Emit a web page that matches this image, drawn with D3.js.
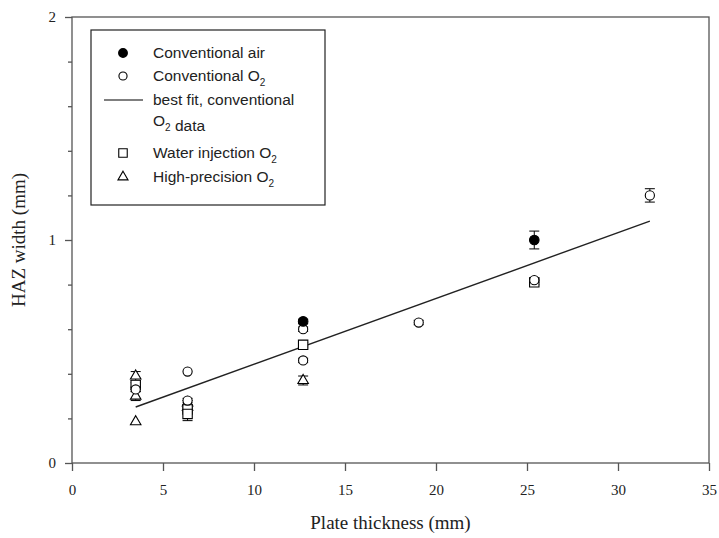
<!DOCTYPE html>
<html>
<head>
<meta charset="utf-8">
<script src="https://cdn.jsdelivr.net/npm/d3@7"></script>
<style>
  body { margin: 0; background: #fff; }
  text { fill: #222; }
</style>
</head>
<body>
<div id="chart"></div>
<script>
// data (plate thickness mm, HAZ width mm, error)
const airX = [12.7, 25.4];
const airY = [0.635, 1.0];
const airErr = [0.01, 0.04];

const o2X = [3.5, 6.35, 6.35, 12.7, 12.7, 19.05, 25.4, 31.75];
const o2Y = [0.33, 0.41, 0.28, 0.60, 0.46, 0.63, 0.82, 1.20];
const o2Err = [0.01, 0, 0.01, 0.01, 0.01, 0.01, 0.01, 0.03];

const waterX = [3.5, 6.35, 6.35, 12.7, 25.4];
const waterY = [0.35, 0.24, 0.22, 0.53, 0.81];
const waterErr = [0.01, 0.01, 0.03, 0.01, 0.01];

const hpX = [3.5, 3.5, 3.5, 6.35, 6.35, 12.7];
const hpY = [0.39, 0.30, 0.185, 0.27, 0.25, 0.37];
const hpErr = [0.02, 0.02, 0, 0.01, 0.01, 0.02];

// best fit line for conventional O2 data
const fitX = [3.5, 31.75];
const fitSlope = 0.0295;
const fitIntercept = 0.148;

const xTicks = [0, 5, 10, 15, 20, 25, 30, 35];
const yTicks = [0, 1, 2];
const yMinor = [0.2, 0.4, 0.6, 0.8, 1.2, 1.4, 1.6, 1.8];

const legendLabels = ['Conventional air', 'Conventional O2', 'best fit, conventional', 'O2 data', 'Water injection O2', 'High-precision O2'];

function createChart() {
    const width = 719;
    const height = 538;
    const left = 72, right = 709, top = 17, bottom = 463;

    const xScale = d3.scaleLinear().domain([0, 35]).range([left, right]);
    const yScale = d3.scaleLinear().domain([0, 2]).range([bottom, top]);

    const svg = d3.select('#chart').append('svg')
        .attr('width', width)
        .attr('height', height);

    // frame
    svg.append('rect')
        .attr('x', left).attr('y', top)
        .attr('width', right - left).attr('height', bottom - top)
        .attr('fill', 'none').attr('stroke', '#555').attr('stroke-width', 1.3);

    // x axis
    const xAxis = svg.append('g')
        .attr('transform', `translate(0, ${bottom})`)
        .call(d3.axisBottom(xScale).tickValues(xTicks).tickSize(8).tickPadding(13));
    xAxis.select('.domain').remove();

    // y axis
    const yAxis = svg.append('g')
        .attr('transform', `translate(${left}, 0)`)
        .call(d3.axisLeft(yScale).tickValues(yTicks).tickFormat(d3.format('d')).tickSize(7).tickPadding(9));
    yAxis.select('.domain').remove();

    svg.append('g')
        .attr('transform', `translate(${left}, 0)`)
        .call(d3.axisLeft(yScale).tickValues(yMinor).tickSize(4).tickFormat(''))
        .select('.domain').remove();

    svg.selectAll('.tick line').attr('stroke', '#555').attr('stroke-width', 1.3);
    svg.selectAll('.tick text')
        .attr('font-family', '"Liberation Serif", "Times New Roman", serif')
        .attr('font-size', 15)
        .attr('fill', '#222');

    // axis titles
    svg.append('text')
        .attr('x', (left + right) / 2)
        .attr('y', 529)
        .attr('text-anchor', 'middle')
        .attr('font-family', '"Liberation Serif", "Times New Roman", serif')
        .attr('font-size', 19)
        .text('Plate thickness (mm)');

    svg.append('text')
        .attr('transform', `translate(25, ${(top + bottom) / 2}) rotate(-90)`)
        .attr('text-anchor', 'middle')
        .attr('font-family', '"Liberation Serif", "Times New Roman", serif')
        .attr('font-size', 19)
        .text('HAZ width (mm)');

    // best fit
    svg.append('line')
        .attr('x1', xScale(fitX[0]))
        .attr('y1', yScale(fitIntercept + fitSlope * fitX[0]))
        .attr('x2', xScale(fitX[1]))
        .attr('y2', yScale(fitIntercept + fitSlope * fitX[1]))
        .attr('stroke', '#222').attr('stroke-width', 1.4);

    const series = [
        {x: hpX, y: hpY, e: hpErr, sym: d3.symbolTriangle, size: 48, fill: '#fff'},
        {x: waterX, y: waterY, e: waterErr, sym: d3.symbolSquare, size: 88, fill: '#fff'},
        {x: o2X, y: o2Y, e: o2Err, sym: d3.symbolCircle, size: 66, fill: '#fff'},
        {x: airX, y: airY, e: airErr, sym: d3.symbolCircle, size: 72, fill: '#000'}
    ];

    series.forEach(s => {
        const pts = s.x.map((d, i) => ({x: d, y: s.y[i], e: s.e[i]}));
        const g = svg.append('g');
        // error bars
        const eb = g.selectAll('.err').data(pts.filter(p => p.e > 0)).enter().append('g');
        eb.append('line')
            .attr('x1', p => xScale(p.x)).attr('x2', p => xScale(p.x))
            .attr('y1', p => yScale(p.y - p.e)).attr('y2', p => yScale(p.y + p.e))
            .attr('stroke', '#000').attr('stroke-width', 1);
        [-1, 1].forEach(sign => {
            eb.append('line')
                .attr('x1', p => xScale(p.x) - 5).attr('x2', p => xScale(p.x) + 5)
                .attr('y1', p => yScale(p.y + sign * p.e)).attr('y2', p => yScale(p.y + sign * p.e))
                .attr('stroke', '#000').attr('stroke-width', 1);
        });
        g.selectAll('path.pt').data(pts).enter().append('path')
            .attr('d', d3.symbol().type(s.sym).size(s.size))
            .attr('transform', p => `translate(${xScale(p.x)}, ${yScale(p.y)})`)
            .attr('fill', s.fill)
            .attr('stroke', '#000').attr('stroke-width', 1.1);
    });

    // legend
    const lg = svg.append('g');
    lg.append('rect')
        .attr('x', 91).attr('y', 30).attr('width', 234).attr('height', 175)
        .attr('fill', '#fff').attr('stroke', '#222').attr('stroke-width', 1.2);

    const font = '"Liberation Sans", Arial, sans-serif';
    const rows = [
        {y: 53, sym: d3.symbolCircle, size: 60, fill: '#000', label: legendLabels[0]},
        {y: 76, sym: d3.symbolCircle, size: 52, fill: '#fff', label: legendLabels[1]},
        {y: 100, line: true, label: legendLabels[2]},
        {y: 121, label: legendLabels[3]},
        {y: 153, sym: d3.symbolSquare, size: 72, fill: '#fff', label: legendLabels[4]},
        {y: 177, sym: d3.symbolTriangle, size: 44, fill: '#fff', label: legendLabels[5]}
    ];
    rows.forEach(r => {
        if (r.sym) {
            lg.append('path')
                .attr('d', d3.symbol().type(r.sym).size(r.size))
                .attr('transform', `translate(123, ${r.y})`)
                .attr('fill', r.fill).attr('stroke', '#000').attr('stroke-width', 1.1);
        }
        if (r.line) {
            lg.append('line')
                .attr('x1', 104).attr('x2', 143).attr('y1', r.y).attr('y2', r.y)
                .attr('stroke', '#000').attr('stroke-width', 1.2);
        }
        const t = lg.append('text')
            .attr('x', 153).attr('y', r.y + 5)
            .attr('font-family', font).attr('font-size', 15.5)
            .attr('fill', '#111');
        const parts = r.label.split('O2');
        parts.forEach((p, i) => {
            t.append('tspan').text(p);
            if (i < parts.length - 1) {
                t.append('tspan').text('O');
                t.append('tspan').attr('font-size', 10).attr('dy', 5).text('2');
                t.append('tspan').attr('dy', -5).text('');
            }
        });
    });
}

createChart();
</script>
</body>
</html>
